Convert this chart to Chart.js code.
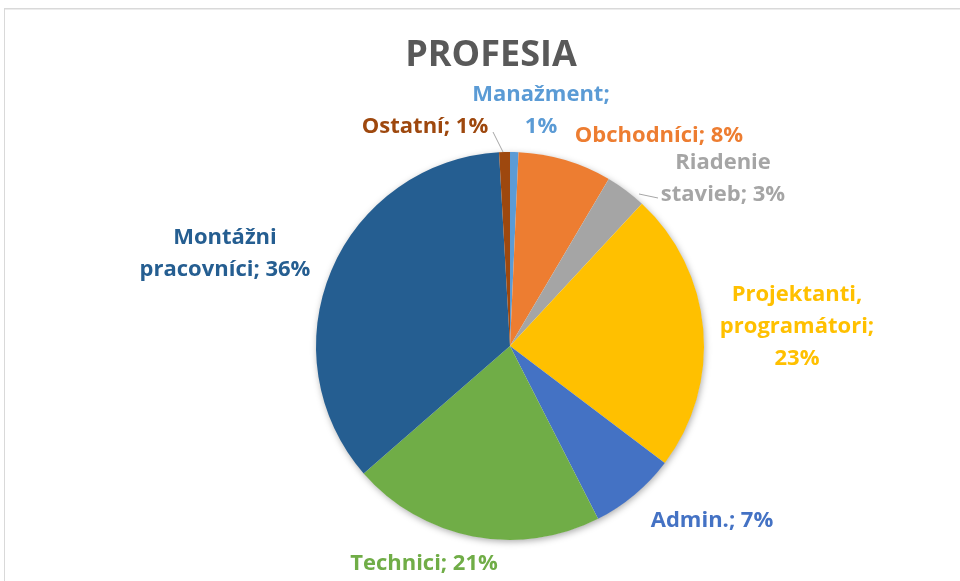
<!DOCTYPE html>
<html>
<head>
<meta charset="utf-8">
<script src="https://cdn.jsdelivr.net/npm/chart.js@4/dist/chart.umd.min.js"></script>
<style>
    html, body { margin: 0; padding: 0; background: #fff; overflow: hidden; }
    #frame {
        position: absolute; left: 4px; top: 8px; width: 980px; height: 600px;
        border: 1px solid #d9d9d9; box-shadow: 0 1px 0 #ececec inset;
    }
    #wrap { position: absolute; left: 0; top: 0; width: 960px; height: 581px; }
</style>
</head>
<body>
<div id="frame"></div>
<div id="wrap"><canvas id="chart" width="960" height="581"></canvas></div>
<script>
(function () {
    'use strict';

    var TITLE = 'PROFESIA';
    var categories = ['Manažment', 'Obchodníci', 'Riadenie stavieb', 'Projektanti, programátori',
        'Admin.', 'Technici', 'Montážni pracovníci', 'Ostatní'];
    var shares = [0.7, 7.8, 3.4, 23.4, 7.2, 21.1, 35.5, 0.9];
    var colors = ['#5B9BD5', '#ED7D31', '#A5A5A5', '#FFC000', '#4472C4', '#70AD47', '#255E91', '#9E480E'];

    // label placement relative to the pie centre, plus wrap width for each label
    var labelLayout = [
        { dx: 31, dy: -235, wrap: 150 },
        { dx: 149, dy: -210, wrap: 400 },
        { dx: 213, dy: -167, wrap: 135 },
        { dx: 287, dy: -19, wrap: 165 },
        { dx: 202, dy: 175, wrap: 400 },
        { dx: -86, dy: 218, wrap: 400 },
        { dx: -285, dy: -92, wrap: 185 },
        { dx: -85, dy: -219, wrap: 400 }
    ];
    // short grey leader lines (from label side to slice edge), relative to centre
    var leaders = [
        { idx: 7, from: [-17, -214], to: [-7, -194] },
        { idx: 2, from: [148, -148], to: [129, -152] }
    ];

    var FONT = 'bold 22px "Open Sans", "Noto Sans", sans-serif';
    var LINE_H = 32;

    function wrapText(ctx, text, maxW) {
        var words = text.split(' ');
        var lines = [];
        var cur = '';
        for (var i = 0; i < words.length; i++) {
            var test = cur ? cur + ' ' + words[i] : words[i];
            if (cur && ctx.measureText(test).width > maxW) {
                lines.push(cur);
                cur = words[i];
            } else {
                cur = test;
            }
        }
        if (cur) {
            lines.push(cur);
        }
        return lines;
    }

    var shadowPlugin = {
        id: 'pieShadow',
        beforeDatasetsDraw: function (chart) {
            var arc = chart.getDatasetMeta(0).data[0];
            if (!arc) {
                return;
            }
            var ctx = chart.ctx;
            ctx.save();
            ctx.shadowColor = 'rgba(0,0,0,0.35)';
            ctx.shadowBlur = 7;
            ctx.shadowOffsetX = 1;
            ctx.shadowOffsetY = 2;
            ctx.fillStyle = '#ffffff';
            ctx.beginPath();
            ctx.arc(arc.x, arc.y, arc.outerRadius - 0.5, 0, Math.PI * 2);
            ctx.fill();
            ctx.restore();
        }
    };

    var labelPlugin = {
        id: 'outsideLabels',
        afterDraw: function (chart) {
            var meta = chart.getDatasetMeta(0);
            var arc0 = meta.data[0];
            if (!arc0) {
                return;
            }
            var cx = arc0.x;
            var cy = arc0.y;
            var ctx = chart.ctx;
            ctx.save();

            // title
            ctx.fillStyle = '#595959';
            ctx.font = 'bold 36px "Open Sans", "Noto Sans", sans-serif';
            ctx.textAlign = 'center';
            ctx.textBaseline = 'middle';
            ctx.fillText(TITLE, cx - 19, 56);

            // leader lines
            ctx.strokeStyle = '#a6a6a6';
            ctx.lineWidth = 1;
            for (var k = 0; k < leaders.length; k++) {
                var ld = leaders[k];
                ctx.beginPath();
                ctx.moveTo(cx + ld.from[0], cy + ld.from[1]);
                ctx.lineTo(cx + ld.to[0], cy + ld.to[1]);
                ctx.stroke();
            }

            ctx.font = FONT;
            for (var i = 0; i < categories.length; i++) {
                var pct = Math.round(shares[i]);
                var text = categories[i] + '; ' + pct + '%';
                var lay = labelLayout[i];
                var lines = wrapText(ctx, text, lay.wrap);
                var top = cy + lay.dy - (lines.length - 1) * LINE_H / 2;
                ctx.fillStyle = colors[i];
                for (var j = 0; j < lines.length; j++) {
                    ctx.fillText(lines[j], cx + lay.dx, top + j * LINE_H);
                }
            }
            ctx.restore();
        }
    };

    new Chart(document.getElementById('chart'), {
        type: 'pie',
        data: {
            labels: categories,
            datasets: [{
                data: shares,
                backgroundColor: colors,
                borderWidth: 0
            }]
        },
        options: {
            responsive: false,
            animation: false,
            layout: { padding: { left: 60, right: 0, top: 152, bottom: 41 } },
            plugins: {
                legend: { display: false },
                tooltip: { enabled: false },
                title: { display: false }
            }
        },
        plugins: [shadowPlugin, labelPlugin]
    });
})();
</script>
</body>
</html>
